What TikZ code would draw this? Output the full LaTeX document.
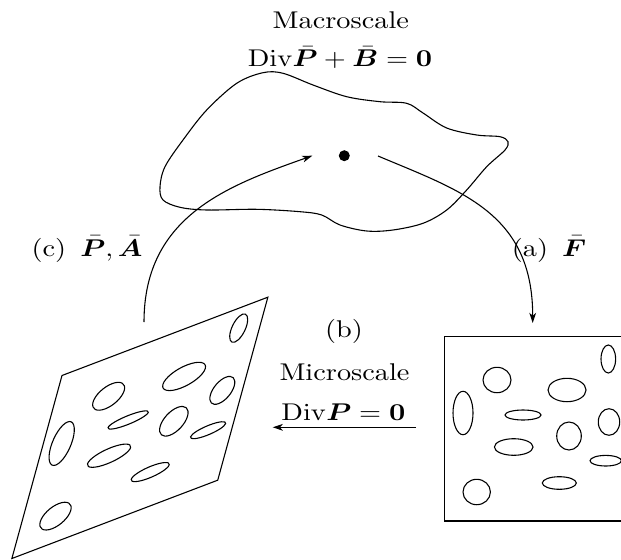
\documentclass[tikz,border=0pt]{standalone}
\usepackage{graphicx}
\usepackage{amsmath}
\usepackage{bm}
\usetikzlibrary{arrows.meta}
\newcommand{\wx}[1]{\scalebox{1.17}[1]{#1}}
\newcommand{\microcell}{%
  \draw (444.7,336.7) rectangle (629,521);
  \draw (608.3,359) ellipse [x radius=7.3, y radius=14];
  \draw (497,380) ellipse [x radius=14, y radius=12.7];
  \draw (567,390) ellipse [x radius=19, y radius=11.7];
  \draw (463,413) ellipse [x radius=10, y radius=21.7];
  \draw (523,415) ellipse [x radius=18, y radius=5];
  \draw (609,422) ellipse [x radius=10.7, y radius=13.3];
  \draw (569,436) ellipse [x radius=12.3, y radius=14];
  \draw (513.7,447) ellipse [x radius=19.3, y radius=8.3];
  \draw (605.7,460.7) ellipse [x radius=15.7, y radius=5.3];
  \draw (559.3,483) ellipse [x radius=17, y radius=6.3];
  \draw (476.7,492) ellipse [x radius=13.7, y radius=12.7];
}
\begin{document}
\begin{tikzpicture}[x=0.4132pt,y=-0.4132pt,line width=0.45pt,
  arr/.style={-{Stealth[length=4.2pt,width=2.8pt,inset=1.2pt]}},
  lbl/.style={anchor=base,inner sep=0pt}]
\useasboundingbox (0,0) rectangle (621,559);
% macroscale body
\draw plot[smooth cycle,tension=0.55] coordinates {
 (183,140) (206.7,110) (236.7,83.3) (263,72.7) (283,73.3) (313,85)
 (346.7,96.7) (380,101.7) (406.7,103.3) (423,113) (446.7,128) (476.7,135)
 (500,136.7) (508,141.7) (505,150) (486.7,166.7) (466.7,190) (446.7,210)
 (423,223.3) (393,230) (366.7,231) (340,225) (321.7,215) (300,211.7)
 (256.7,209.3) (206.7,210) (180,207.3) (163,200) (160,186.7) (165,166.7)};
\fill (344.3,155.7) circle [radius=5.5];
% texts
\node[lbl] (mac) at (340.8,29) {\wx{Macroscale}};
\node[lbl] (maceq) at (340,67) {\wx{$\mathrm{Div}\bar{\bm{P}}+\bar{\bm{B}}=\mathbf{0}$}};
\node[lbl] (lb) at (344,337) {\wx{(b)}};
\node[lbl] (mic) at (344.5,380) {\wx{Microscale}};
\node[lbl] (miceq) at (343.4,420.5) {\wx{$\mathrm{Div}\bm{P}=\mathbf{0}$}};
\node[lbl] (lc) at (87,256) {\wx{(c)\enspace$\bar{\bm{P}},\bar{\bm{A}}$}};
\node[lbl] (la) at (549,256) {\wx{(a)\enspace$\bar{\bm{F}}$}};
% micro cell (right)
\microcell
% micro cell (left, deformed)
\begin{scope}[shift={(62,375.5)}]
 \begin{scope}[cm={1.117,0.425,0.272,0.993,(0,0)}]
  \begin{scope}[shift={(-444.7,-336.7)}]
   \microcell
  \end{scope}
 \end{scope}
\end{scope}
% connectors
\coordinate (aS) at (378,156);
\coordinate (aE) at (532.7,323);
\coordinate (bS) at (416,427.3);
\coordinate (bE) at (272.7,427.3);
\coordinate (cS) at (144,322);
\coordinate (cE) at (312.3,155.7);
\draw[arr] (aS) .. controls (461,191) and (532.7,213) .. (aE);
\draw[arr] (bS) -- (bE);
\draw[arr] (cS) .. controls (144,215) and (230,185) .. (cE);
\end{tikzpicture}
\end{document}
